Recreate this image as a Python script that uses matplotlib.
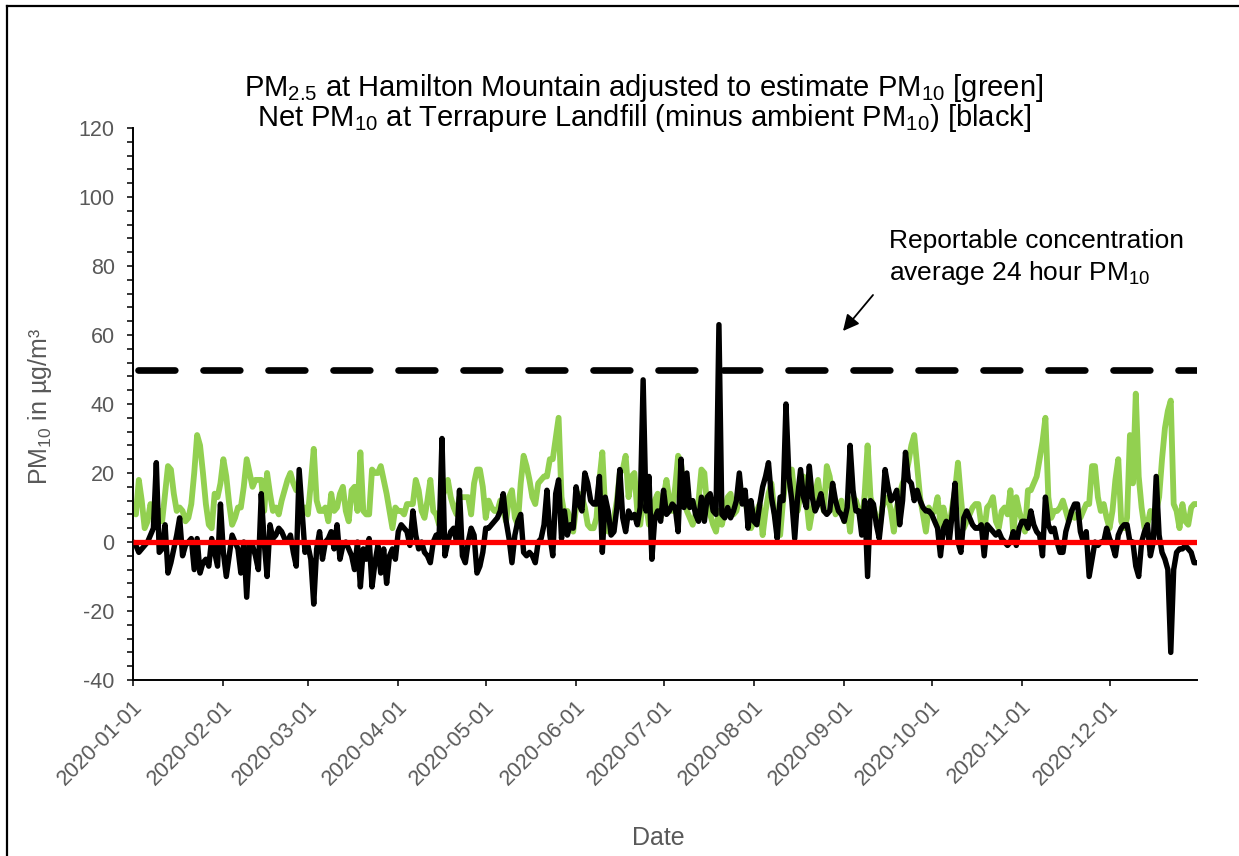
import numpy as np
import pandas as pd
import matplotlib
matplotlib.use("Agg")
import matplotlib.pyplot as plt
import matplotlib.dates as mdates
from matplotlib.ticker import MultipleLocator
from matplotlib.transforms import ScaledTranslation
from matplotlib.lines import Line2D

# ---------------- data ----------------
start_date = "2020-01-01"

# PM2.5 at Hamilton Mountain adjusted to estimate PM10 (green), daily
green_pm10_est = [
    9, 8, 18, 12, 4, 6, 11, 7, 8, 9,
    6, 14, 22, 21, 14, 9, 10, 9, 6, 7,
    11, 20, 31, 28, 20, 11, 5, 4, 14, 13,
    17, 24, 19, 11, 5, 7, 10, 10, 16, 24,
    20, 16, 18, 18, 18, 9, 20, 14, 9, 10,
    8, 12, 15, 18, 20, 17, 15, 15, 9, 10,
    8, 17, 27, 12, 9, 9, 10, 6, 14, 9,
    10, 14, 16, 9, 6, 15, 16, 9, 26, 9,
    8, 8, 21, 20, 20, 22, 18, 14, 9, 4,
    10, 9, 9, 8, 11, 11, 11, 18, 15, 9,
    7, 12, 18, 9, 8, 5, 13, 15, 18, 13,
    10, 8, 13, 13, 13, 13, 8, 17, 21, 21,
    16, 7, 12, 10, 9, 9, 12, 9, 6, 13,
    15, 7, 5, 17, 25, 22, 18, 13, 11, 17,
    18, 19, 19, 24, 24, 30, 36, 13, 8, 9,
    7, 3, 10, 14, 13, 10, 5, 4, 4, 7,
    18, 26, 9, 3, 4, 7, 12, 20, 21, 25,
    13, 19, 20, 9, 5, 13, 11, 5, 6, 12,
    14, 7, 13, 18, 12, 9, 16, 25, 23, 13,
    9, 7, 5, 8, 12, 21, 20, 10, 8, 5,
    3, 9, 5, 9, 13, 14, 8, 9, 13, 15,
    12, 8, 4, 6, 9, 11, 2, 9, 14, 17,
    9, 4, 2, 12, 18, 20, 21, 13, 9, 14,
    19, 12, 4, 9, 14, 18, 12, 9, 22, 19,
    13, 8, 10, 12, 6, 10, 3, 13, 12, 9,
    5, 14, 28, 13, 10, 7, 3, 10, 12, 13,
    9, 3, 10, 14, 17, 19, 23, 28, 31, 22,
    13, 8, 3, 10, 8, 9, 13, 5, 10, 6,
    4, 10, 15, 23, 13, 4, 6, 8, 10, 11,
    11, 5, 3, 10, 11, 13, 6, 4, 9, 10,
    8, 15, 2, 13, 9, 6, 3, 15, 15, 17,
    19, 24, 29, 36, 13, 7, 9, 9, 10, 12,
    9, 6, 9, 7, 8, 7, 9, 11, 11, 22,
    22, 13, 9, 11, 7, 4, 9, 18, 24, 6,
    4, 7, 31, 17, 43, 19, 10, 4, 5, 9,
    7, 9, 13, 24, 33, 38, 41, 11, 9, 4,
    11, 6, 5, 10, 11, 11,
]

# Net PM10 at Terrapure Landfill minus ambient PM10 (black), daily
black_net_pm10 = [
    0, -1, -3, -2, -1, 0, 2, 4, 23, -3,
    -2, 5, -9, -6, -2, 2, 7, -4, -1, 0,
    1, -8, 1, -9, -6, -5, -7, 1, -3, -7,
    11, -3, -10, -4, 2, 0, -2, -9, 0, -16,
    -1, -1, -4, -8, 14, 0, -10, 5, 1, 2,
    4, 3, 1, 0, 2, -3, -7, 21, 9, -3,
    -1, -5, -18, -2, 3, -5, 0, 1, 3, -2,
    5, -5, -1, 0, -2, -4, -8, 0, -13, -2,
    -5, 1, -13, -6, -1, -9, -2, -12, -4, -2,
    -5, 3, 5, 4, 3, -1, 9, 2, -2, 0,
    -3, -4, -6, 0, 2, 1, 30, -4, 0, 3,
    4, 0, 15, -4, -6, 0, 4, 2, -9, -7,
    -3, 4, 4, 5, 6, 7, 9, 14, 6, 1,
    -6, 2, 6, 8, -3, -4, -3, -4, -6, 0,
    1, 5, 15, 2, -4, 14, 18, 1, 9, 2,
    5, 4, 16, 11, 9, 20, 17, 12, 11, 11,
    19, -3, 13, 9, 2, 3, 10, 21, 7, 3,
    9, 7, 8, 5, 10, 47, 9, 19, -5, 7,
    9, 6, 15, 8, 9, 11, 10, 3, 24, 10,
    20, 10, 12, 8, 6, 13, 6, 13, 14, 9,
    8, 63, 8, 7, 10, 7, 9, 12, 20, 11,
    15, 4, 12, 6, 5, 11, 16, 19, 23, 13,
    8, 1, 13, 12, 40, 19, 12, 1, 13, 21,
    13, 10, 22, 13, 9, 11, 14, 9, 8, 9,
    17, 12, 9, 8, 6, 10, 28, 15, 9, 9,
    2, 12, -10, 12, 11, 5, 1, 9, 21, 16,
    12, 13, 15, 5, 12, 26, 18, 17, 12, 15,
    12, 10, 9, 9, 8, 6, 4, -4, 4, 6,
    0, 8, 17, 0, -3, 7, 9, 7, 5, 4,
    4, 5, -4, 5, 4, 3, 2, 3, 1, 0,
    -1, 0, 3, -1, 4, 6, 6, 4, 9, 5,
    3, 2, -4, 13, 5, 3, 4, 0, -3, -3,
    3, 6, 9, 11, 11, 3, 0, 3, -10, -5,
    0, -1, 0, 0, 4, 1, -1, -4, 2, 4,
    5, 5, 0, 0, -7, -10, 0, 3, 5, -4,
    0, 19, 2, -3, -5, -8, -32, -8, -3, -2,
    -2, -1, -2, -3, -6, -6,
]

reportable_limit = 50
zero_level = 0

x_tick_labels = ["2020-01-01", "2020-02-01", "2020-03-01", "2020-04-01",
                 "2020-05-01", "2020-06-01", "2020-07-01", "2020-08-01",
                 "2020-09-01", "2020-10-01", "2020-11-01", "2020-12-01"]
y_ticks = [-40, -20, 0, 20, 40, 60, 80, 100, 120]

title_line1 = "PM$_{2.5}$ at Hamilton Mountain adjusted to estimate PM$_{10}$ [green]"
title_line2 = "Net PM$_{10}$ at Terrapure Landfill (minus ambient PM$_{10}$) [black]"
note_line1 = "Reportable concentration"
note_line2 = "average 24 hour PM$_{10}$"
x_label = "Date"
y_label = "PM$_{10}$ in µg/m³"

# ---------------- style ----------------
plt.rcParams["font.family"] = ["Liberation Sans", "DejaVu Sans"]
plt.rcParams["mathtext.default"] = "regular"
plt.rcParams["lines.scale_dashes"] = False
plt.rcParams["axes.unicode_minus"] = False

W, H = 1239, 856
fig = plt.figure(figsize=(W / 100, H / 100), dpi=100)
fig.patch.set_facecolor("white")

def fx(px):
    return px / W

def fy(py):
    return 1 - py / H

ax = fig.add_axes([fx(133), fy(680), fx(1197) - fx(133), fy(128) - fy(680)])

dates = pd.date_range(start_date, periods=len(green_pm10_est), freq="D")
dates_b = pd.date_range(start_date, periods=len(black_net_pm10), freq="D")

ax.plot(dates, green_pm10_est, color="#92D050", lw=4.2,
        solid_joinstyle="round", solid_capstyle="round", zorder=2)
ax.plot(dates_b, black_net_pm10, color="black", lw=3.9,
        solid_joinstyle="round", solid_capstyle="round", zorder=3)
ax.axhline(zero_level, color="#FF0000", lw=3.8, zorder=4, solid_capstyle="butt")
ax.axhline(reportable_limit, color="black", lw=4.8,
           linestyle=(43.2, (26.5, 20.3)), dash_capstyle="round", zorder=4)

ax.set_xlim(pd.Timestamp("2020-01-01"), pd.Timestamp("2020-12-31"))
ax.set_ylim(min(y_ticks), max(y_ticks))

ax.set_yticks(y_ticks)
ax.yaxis.set_minor_locator(MultipleLocator(4))
ax.set_xticks(pd.to_datetime(x_tick_labels))
ax.set_xticklabels(x_tick_labels)

for side in ["top", "right"]:
    ax.spines[side].set_visible(False)
for side in ["left", "bottom"]:
    ax.spines[side].set_linewidth(1.4)
    ax.spines[side].set_color("black")

ax.tick_params(axis="y", which="major", direction="out", length=4.2, width=1.1,
               labelsize=15.5, labelcolor="#595959", pad=9)
ax.tick_params(axis="y", which="minor", direction="out", length=4.0, width=1.1)
ax.tick_params(axis="x", which="major", direction="out", length=4.0, width=1.1,
               labelsize=15.5, labelcolor="#595959", pad=13, labelrotation=45)
plt.setp(ax.get_xticklabels(), ha="right", va="center", rotation_mode="anchor")
offset = ScaledTranslation(6 / 100, 0, fig.dpi_scale_trans)
for lbl in ax.get_xticklabels():
    lbl.set_transform(lbl.get_transform() + offset)

# titles and labels
fig.text(fx(644), fy(96), title_line1, ha="center", va="baseline", fontsize=21, color="black")
fig.text(fx(644), fy(126), title_line2, ha="center", va="baseline", fontsize=21, color="black")
fig.text(fx(889), fy(248), note_line1, ha="left", va="baseline", fontsize=19, color="black")
fig.text(fx(889), fy(280), note_line2, ha="left", va="baseline", fontsize=19, color="black")
fig.text(fx(658), fy(838), x_label, ha="center", va="center", fontsize=18, color="#595959")
fig.text(fx(40), fy(406), y_label, ha="center", va="center", rotation=90, fontsize=18,
         color="#595959")

ax.annotate("", xy=(fx(843), fy(331)), xytext=(fx(873), fy(295)),
            xycoords="figure fraction", textcoords="figure fraction",
            arrowprops=dict(arrowstyle="-|>", color="black", lw=1.3,
                            mutation_scale=24, shrinkA=0, shrinkB=0))

# outer border (top and left visible in reference)
fig.add_artist(Line2D([fx(7), fx(7)], [0, fy(6)], transform=fig.transFigure,
                      color="black", lw=1.6))
fig.add_artist(Line2D([fx(7), 1], [fy(6), fy(6)], transform=fig.transFigure,
                      color="black", lw=1.6))

fig.savefig("out.png", dpi=100, facecolor="white")
